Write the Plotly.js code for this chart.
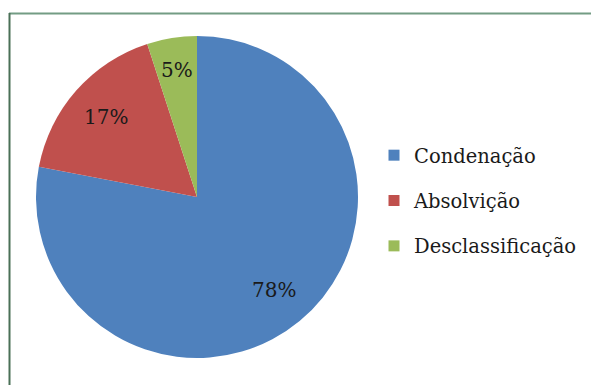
<!DOCTYPE html>
<html><head><meta charset="utf-8">
<script src="https://cdn.plot.ly/plotly-3.0.1.min.js"></script>
<style>html,body{margin:0;padding:0;background:#fff}#chart{width:591px;height:385px}</style>
</head><body><div id="chart"></div>
<script>
const labels = ["Condenação", "Absolvição", "Desclassificação"];
const values = [78, 17, 5];
const colors = ["#4f81bd", "#c0504d", "#9bbb59"];

const font = "DejaVu Serif, serif";
const W = 591, H = 385;
const cx = 197, cy = 197, R = 161; // pie geometry in pixels
const dom = {x: [(cx - R)/W, (cx + R)/W], y: [(H - cy - R)/H, (H - cy + R)/H]};

const traces = [{
  type: "pie",
  labels: labels,
  values: values,
  sort: false,
  direction: "clockwise",
  rotation: 0,
  marker: {colors: colors, line: {color: "#ffffff", width: 0}},
  textinfo: "none",
  domain: dom,
  showlegend: false,
  hoverinfo: "label+percent"
}];
labels.forEach((lab, i) => {
  traces.push({
    type: "scatter", mode: "markers", x: [null], y: [null],
    name: lab, legendgroup: "g" + i,
    marker: {symbol: "square", size: 11, color: colors[i]},
    showlegend: true
  });
});

// percentage labels placed at each slice's mid-angle
const total = values.reduce((a, b) => a + b, 0);
const annotations = [];
let cum = 0;
values.forEach((v, i) => {
  const frac = v / total;
  const mid = (cum + frac / 2) * 2 * Math.PI;
  cum += frac;
  const rr = (frac < 0.1 ? 0.8 : 0.75) * R;
  const px = cx + rr * Math.sin(mid);
  const py = cy - rr * Math.cos(mid);
  annotations.push({
    xref: "paper", yref: "paper", x: px / W, y: (H - py) / H,
    xanchor: "center", yanchor: "middle", showarrow: false,
    text: Math.round(frac * 100) + "%",
    font: {family: font, size: 20, color: "#1a1a1a"}
  });
});

const layout = {
  width: W, height: H,
  margin: {l: 0, r: 0, t: 0, b: 0},
  paper_bgcolor: "#ffffff", plot_bgcolor: "#ffffff",
  xaxis: {visible: false}, yaxis: {visible: false},
  showlegend: true,
  legend: {x: 374/W, y: (H - 201)/H, xanchor: "left", yanchor: "middle",
    font: {family: font, size: 19.5, color: "#1a1a1a"},
    tracegroupgap: 17, itemwidth: 30, bgcolor: "rgba(0,0,0,0)"},
  annotations: annotations,
  shapes: [
    {type: "line", xref: "paper", yref: "paper", x0: 9/W, x1: 1, y0: (H - 13.5)/H, y1: (H - 13.5)/H, line: {color: "#739c84", width: 2}},
    {type: "line", xref: "paper", yref: "paper", x0: 9.5/W, x1: 9.5/W, y0: (H - 13)/H, y1: 0, line: {color: "#4a7057", width: 2}}
  ]
};
Plotly.newPlot("chart", traces, layout, {displayModeBar: false, staticPlot: true});
</script></body></html>
